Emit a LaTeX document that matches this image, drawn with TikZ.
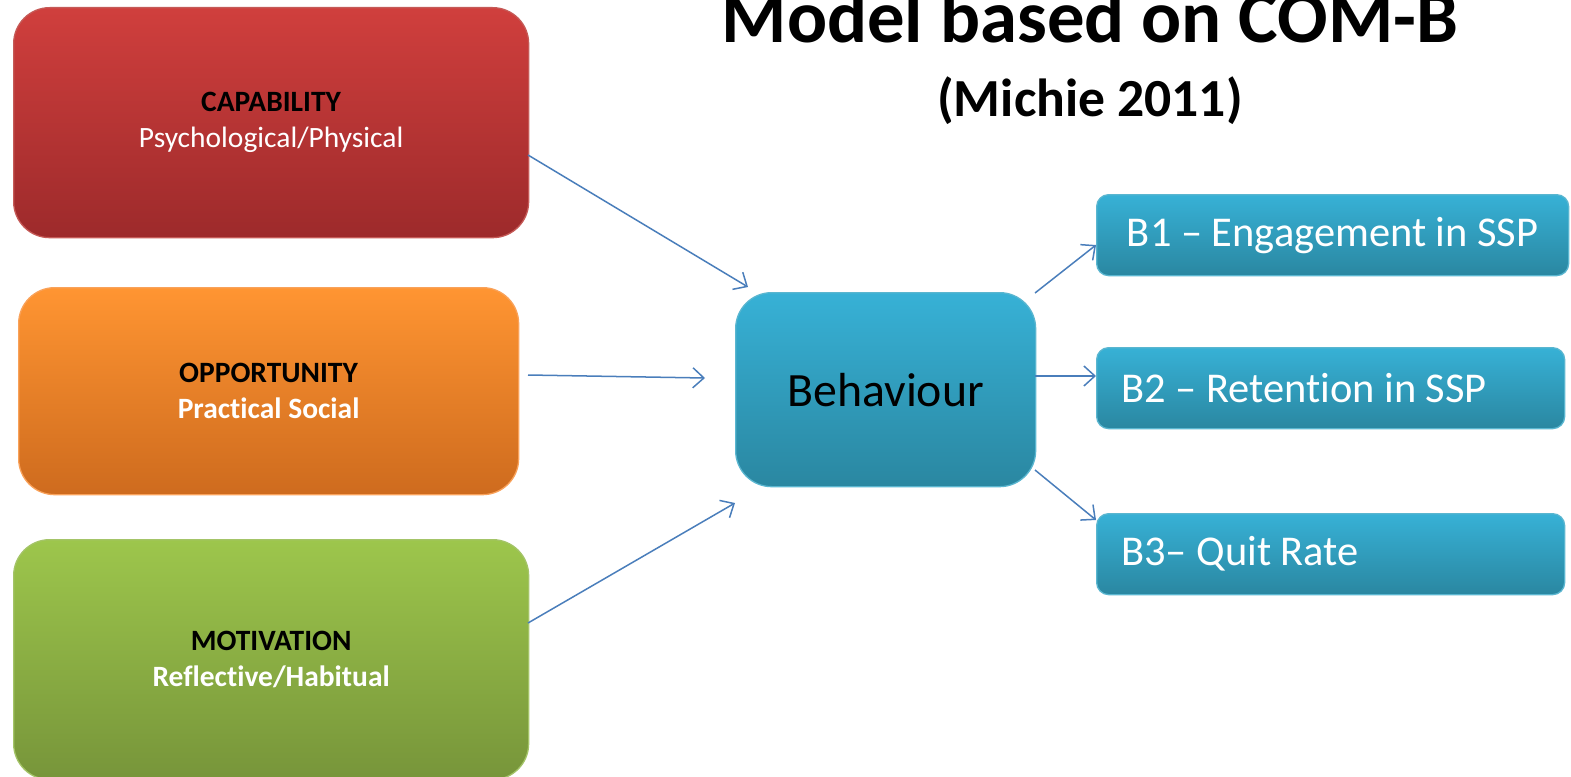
\documentclass[tikz,border=0pt]{standalone}
\usepackage{fontspec}
\setmainfont{Carlito}[RawFeature={-liga;-clig;-calt;-dlig}]
\usetikzlibrary{arrows.meta}

% a zero kern keeps the shaper from joining two letters
\newcommand{\nj}{\kern0pt}

\definecolor{capTop}{HTML}{D03F3D}
\definecolor{capBot}{HTML}{9D2A2B}
\definecolor{capEdge}{HTML}{C55A57}
\definecolor{oppTop}{HTML}{FF9532}
\definecolor{oppBot}{HTML}{CE6B1E}
\definecolor{oppEdge}{HTML}{F9A25A}
\definecolor{motTop}{HTML}{9DC64C}
\definecolor{motBot}{HTML}{77953A}
\definecolor{motEdge}{HTML}{A4C468}
\definecolor{behTop}{HTML}{37B1D6}
\definecolor{behBot}{HTML}{2A87A1}
\definecolor{behEdge}{HTML}{5AB6D0}
\definecolor{linkBlue}{HTML}{4A7EBB}

\begin{document}
\begin{tikzpicture}[x=1bp,y=-1bp,
  box/.style={draw, line width=1.3bp, anchor=north west, inner sep=0pt,
    align=center, rounded corners=36bp},
  capbox/.style={box, draw=capEdge, top color=capTop, bottom color=capBot},
  oppbox/.style={box, draw=oppEdge, top color=oppTop, bottom color=oppBot},
  motbox/.style={box, draw=motEdge, top color=motTop, bottom color=motBot},
  behbox/.style={box, draw=behEdge, top color=behTop, bottom color=behBot},
  outbox/.style={behbox, rounded corners=12bp},
  boxfont/.style={font=\fontsize{29.6}{36}\selectfont},
  outfont/.style={font=\fontsize{42.6}{50}\selectfont, text=white},
  link/.style={draw=linkBlue, line width=1.5bp,
    -{Straight Barb[length=11bp,width=20bp,line width=1.5bp]}},
]
\useasboundingbox (0,0) rectangle (1571,777);

% determinant boxes
\node[capbox, boxfont, minimum width=515bp, minimum height=230bp] (cap) at (13,7)
  {\textbf{CAPABILITY}\\{\color{white}Psychological/Physical}};
\node[oppbox, boxfont, minimum width=500bp, minimum height=207bp] (opp) at (18,287)
  {\textbf{OPPORTUNITY}\\{\color{white}\textbf{Pract\nj ical Social}}};
\node[motbox, boxfont, minimum width=515bp, minimum height=240bp] (mot) at (13,539)
  {\textbf{MOTIVATION}\\{\color{white}\textbf{Ref\nj lect\nj ive/Habitual}}};

% central behaviour box
\node[behbox, minimum width=300bp, minimum height=194bp,
  font=\fontsize{48}{52}\selectfont] (beh) at (735,292) {Behaviour};

% outcome boxes
\node[outbox, outfont, minimum width=472bp, minimum height=81bp] (b1) at (1096,194)
  {B1 -- Engagement in SSP};
\node[outbox, minimum width=468bp, minimum height=81bp] (b2) at (1096,347) {};
\node[outbox, minimum width=468bp, minimum height=81bp] (b3) at (1096,513) {};
\node[outfont, anchor=west, inner sep=0pt] (b2t) at ([xshift=25bp]b2.west)
  {B2 -- Retent\nj ion in SSP};
\node[outfont, anchor=west, inner sep=0pt] (b3t) at ([xshift=25bp]b3.west)
  {B3-- Quit Rate};

% title
\node[anchor=base, inner sep=0pt, font=\fontsize{75}{80}\selectfont\bfseries]
  (title) at (1090,43) {Model based on COM-B};
\node[anchor=base, inner sep=0pt, font=\fontsize{53.8}{58}\selectfont\bfseries]
  (subtitle) at (1090,116) {(Michie 2011)};

% connector end points
\coordinate (capOut) at (528,155);
\coordinate (capIn)  at (748,287);
\coordinate (oppOut) at (528,375);
\coordinate (oppIn)  at (705,378);
\coordinate (motOut) at (528,623);
\coordinate (motIn)  at (735,503);
\coordinate (behA)   at (1035,293);
\coordinate (b1In)   at (1096,245);
\coordinate (behB)   at (1035,376);
\coordinate (b2In)   at (1096,376);
\coordinate (behC)   at (1035,470);
\coordinate (b3In)   at (1096,520);

\draw[link] (capOut) -- (capIn);
\draw[link] (oppOut) -- (oppIn);
\draw[link] (motOut) -- (motIn);
\draw[link] (behA) -- (b1In);
\draw[link] (behB) -- (b2In);
\draw[link] (behC) -- (b3In);
\end{tikzpicture}
\end{document}
